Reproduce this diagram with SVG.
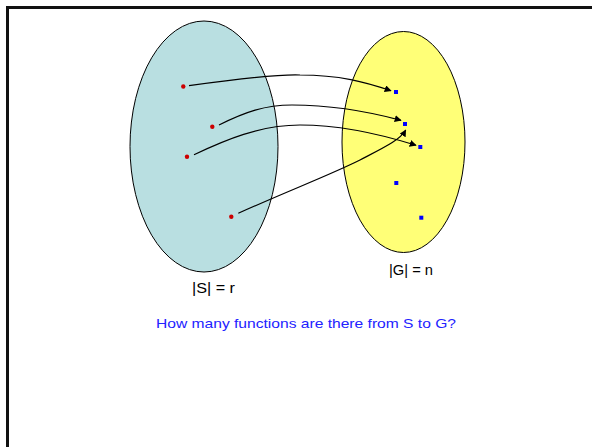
<svg xmlns="http://www.w3.org/2000/svg" width="592" height="447" viewBox="0 0 592 447">
<style>
.lbl{font-family:"Comic Sans MS","Liberation Sans",sans-serif;font-size:14px;fill:#000}
.q{font-family:"Comic Sans MS","Liberation Sans",sans-serif;font-size:13px;fill:#2222ff}
.dot{fill:#cc0000}
.sq{fill:#0000ff}
.edge{fill:none;stroke:#000;stroke-width:1.2;marker-end:url(#ah)}
</style>
<defs>
<marker id="ah" viewBox="0 0 10 10" refX="9" refY="5" markerWidth="7" markerHeight="7" markerUnits="userSpaceOnUse" orient="auto">
<path d="M0,0 L10,5 L0,10 z" fill="#000"/>
</marker>
</defs>
<rect x="0" y="0" width="592" height="447" fill="#fff"/>
<path d="M7.5,447 V7.5 H592" fill="none" stroke="#111" stroke-width="3"/>
<g id="S">
<ellipse cx="204" cy="146.5" rx="74" ry="125.5" fill="#b9dfe1" stroke="#000" stroke-width="1"/>
<circle class="dot" cx="183.3" cy="86.5" r="2.2"/>
<circle class="dot" cx="212.3" cy="126.7" r="2.2"/>
<circle class="dot" cx="187" cy="156.7" r="2.2"/>
<circle class="dot" cx="231.3" cy="216.7" r="2.2"/>
<text class="lbl" x="192" y="293" textLength="43" lengthAdjust="spacingAndGlyphs">|S| = r</text>
</g>
<g id="G">
<ellipse cx="403.5" cy="142" rx="61.5" ry="110.5" fill="#ffff77" stroke="#000" stroke-width="1"/>
<rect class="sq" x="394" y="90" width="4" height="4"/>
<rect class="sq" x="403" y="122" width="4" height="4"/>
<rect class="sq" x="418.3" y="145" width="4" height="4"/>
<rect class="sq" x="394.3" y="181" width="4" height="4"/>
<rect class="sq" x="419.3" y="215.7" width="4" height="4"/>
<text class="lbl" x="389" y="275" textLength="44" lengthAdjust="spacingAndGlyphs">|G| = n</text>
</g>
<g id="connectors">
<path class="edge" d="M189,85.7 C230,80 275,74 300,75 C340,75 365,82 391,90.7"/>
<path class="edge" d="M219,125 C245,112 265,105 292,105 C330,105 370,112 401,120.3"/>
<path class="edge" d="M194,154.7 C225,140 260,125 300,125 C340,125 380,134 416,145.3"/>
<path class="edge" d="M238.3,213.3 C290,190 330,175 360,160 C385,147 400,140 405.7,130"/>
</g>
<text class="q" x="156" y="328" textLength="300" lengthAdjust="spacingAndGlyphs">How many functions are there from S to G?</text>
</svg>
